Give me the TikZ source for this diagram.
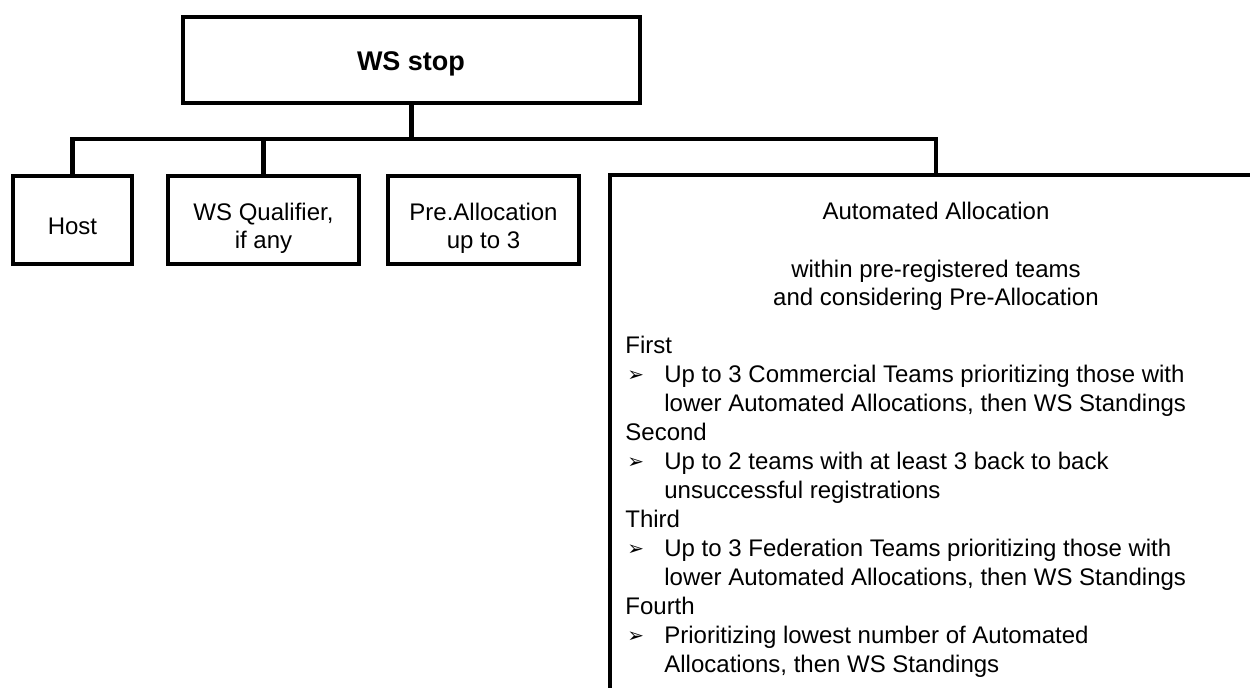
\documentclass[tikz,border=0pt]{standalone}
\usepackage{fontspec}
\setmainfont{Liberation Sans}
\newfontfamily\dejavu{DejaVu Sans}
\begin{document}
\begin{tikzpicture}[x=0.5pt,y=-0.5pt,
  frame/.style={draw, line width=2.2pt, rectangle, inner sep=0pt},
  conn/.style={draw, line width=2.2pt},
  txt/.style={inner sep=0pt, font=\fontsize{12}{14.5}\selectfont},
  ttl/.style={inner sep=0pt, font=\fontsize{13.5}{16}\selectfont\bfseries},
  bul/.style={inner sep=0pt, font=\fontsize{10}{12}\dejavu}]
\useasboundingbox (0,0) rectangle (1250,687);
\clip (0,0) rectangle (1250,687);
% boxes
\node[frame, minimum width=228.5pt, minimum height=43pt] (top) at (411.5,60) {};
\node[frame, minimum width=59.5pt, minimum height=44pt] (host) at (72.5,220) {};
\node[frame, minimum width=95.5pt, minimum height=44pt] (wsq) at (263.5,220) {};
\node[frame, minimum width=95.5pt, minimum height=44pt] (pre) at (483.5,220) {};
\node[frame, minimum width=326pt, minimum height=300pt] (big) at (936,475) {};
% connectors
\coordinate (bus) at (0,139);
\draw[conn] (host.north) -- (host.north |- bus) -- (big.north |- bus) -- (big.north);
\draw[conn] (wsq.north) -- (wsq.north |- bus);
\draw[conn] (top.south) -- (top.south |- bus);
% texts of the small boxes
\node[ttl, anchor=base] (topT) at (411,70) {WS stop};
\node[txt, anchor=base] (hostT) at (72.5,234) {Host};
\node[txt, anchor=base] (wsq1) at (263.5,220) {WS Qualifier,};
\node[txt, anchor=base] (wsq2) at (263.5,248) {if any};
\node[txt, anchor=base] (pre1) at (483.5,220) {Pre.Allocation};
\node[txt, anchor=base] (pre2) at (483.5,248) {up to 3};
% texts of the big box
\node[txt, anchor=base] (aa) at (936,219) {Automated Allocation};
\node[txt, anchor=base] (w1) at (936,277) {within pre-registered teams};
\node[txt, anchor=base] (w2) at (936,305) {and considering Pre-Allocation};
\node[txt, anchor=base west] (h1) at (625,353) {First};
\node[bul, anchor=base west] (b1) at (627,381) {➢};
\node[txt, anchor=base west] (l1a) at (664,382) {Up to 3 Commercial Teams prioritizing those with};
\node[txt, anchor=base west] (l1b) at (664,411) {lower Automated Allocations, then WS Standings};
\node[txt, anchor=base west] (h2) at (625,440) {Second};
\node[bul, anchor=base west] (b2) at (627,468) {➢};
\node[txt, anchor=base west] (l2a) at (664,469) {Up to 2 teams with at least 3 back to back};
\node[txt, anchor=base west] (l2b) at (664,498) {unsuccessful registrations};
\node[txt, anchor=base west] (h3) at (625,527) {Third};
\node[bul, anchor=base west] (b3) at (627,555) {➢};
\node[txt, anchor=base west] (l3a) at (664,556) {Up to 3 Federation Teams prioritizing those with};
\node[txt, anchor=base west] (l3b) at (664,585) {lower Automated Allocations, then WS Standings};
\node[txt, anchor=base west] (h4) at (625,614) {Fourth};
\node[bul, anchor=base west] (b4) at (627,642) {➢};
\node[txt, anchor=base west] (l4a) at (664,643) {Prioritizing lowest number of Automated};
\node[txt, anchor=base west] (l4b) at (664,672) {Allocations, then WS Standings};
\end{tikzpicture}
\end{document}
